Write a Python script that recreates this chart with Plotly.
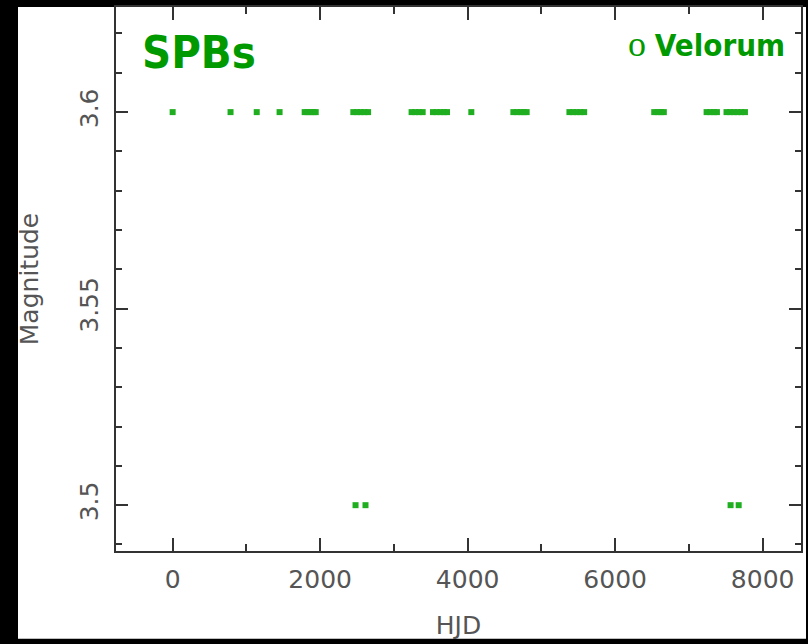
import plotly.graph_objects as go

# Observations of omicron Velorum (HJD offset, magnitude)
hjd_bright = [0, 785, 1140, 1450,
              1790, 1830, 1870, 1910, 1940,
              2450, 2500, 2550, 2600, 2650,
              3240, 3290, 3340, 3390,
              3530, 3580, 3630, 3680, 3720,
              4050,
              4620, 4670, 4720, 4760, 4800,
              5380, 5430, 5480, 5530, 5580,
              6530, 6580, 6620, 6660,
              7240, 7290, 7340, 7380,
              7510, 7560, 7610, 7660, 7710, 7760]
mag_bright = [3.6] * len(hjd_bright)

hjd_faint = [2480, 2615, 7565, 7675]
mag_faint = [3.5] * len(hjd_faint)

x_ticks = [0, 2000, 4000, 6000, 8000]
y_ticks = [3.5, 3.55, 3.6]
y_tick_text = ["3.5", "3.55", "3.6"]

hjd = hjd_bright + hjd_faint
mag = mag_bright + mag_faint

fig = go.Figure()
fig.add_trace(go.Scatter(
    x=hjd, y=mag, mode="markers",
    marker=dict(symbol="square", size=6, color="#1fae1f", line=dict(width=0)),
    showlegend=False, hoverinfo="skip"))

W, H = 808, 644
ml, mr, mt, mb = 116, 7, 5, 93
pw, ph = W - ml - mr, H - mt - mb

def px(xp):
    return (xp - ml) / pw

def py(yp):
    return 1 - (yp - mt) / ph

axis_font = dict(family="DejaVu Sans", size=25, color="#555555")
label_family = "Liberation Sans Narrow, DejaVu Sans Condensed, sans-serif"

fig.update_layout(
    width=W, height=H,
    margin=dict(l=ml, r=mr, t=mt, b=mb, pad=0),
    paper_bgcolor="black",
    plot_bgcolor="white",
    font=axis_font,
    shapes=[dict(type="rect", xref="paper", yref="paper",
                 x0=px(18), x1=px(806), y0=py(639), y1=1.0,
                 fillcolor="white", line=dict(width=0), layer="below")],
    xaxis=dict(
        range=[-768, 8520], tickvals=x_ticks, ticks="inside", ticklen=13,
        tickwidth=1.5, tickcolor="#333333",
        showline=True, linecolor="#333333", linewidth=1.5, mirror="ticks",
        showgrid=False, zeroline=False,
        minor=dict(dtick=1000, tick0=0, ticks="inside", ticklen=7,
                   tickcolor="#333333", tickwidth=1.5, showgrid=False),
        tickfont=axis_font, ticklabelstandoff=5,
        title=dict(text="HJD", font=axis_font, standoff=24),
    ),
    yaxis=dict(
        range=[3.48834, 3.62674], tickvals=y_ticks, ticktext=y_tick_text,
        ticks="inside", ticklen=12, tickwidth=1.5, tickcolor="#333333",
        showline=True, linecolor="#333333", linewidth=1.5, mirror="ticks",
        showgrid=False, zeroline=False, tickangle=-90,
        minor=dict(dtick=0.01, tick0=3.5, ticks="inside", ticklen=6,
                   tickcolor="#333333", tickwidth=1.5, showgrid=False),
        tickfont=axis_font, ticklabelstandoff=6,
        title=dict(text="Magnitude", font=axis_font, standoff=30),
    ),
    annotations=[
        dict(text="<b>SPBs</b>", xref="paper", yref="paper",
             x=px(140), y=py(22), xanchor="left", yanchor="top",
             showarrow=False,
             font=dict(family=label_family, size=45, color="#009900")),
        dict(text="<span style='font-family:Liberation Serif;font-size:36px'>ο</span> <b>Velorum</b>",
             xref="paper", yref="paper",
             x=px(787), y=py(20), xanchor="right", yanchor="top",
             showarrow=False,
             font=dict(family=label_family, size=31, color="#009900")),
    ],
)

fig.write_html("out.html")
